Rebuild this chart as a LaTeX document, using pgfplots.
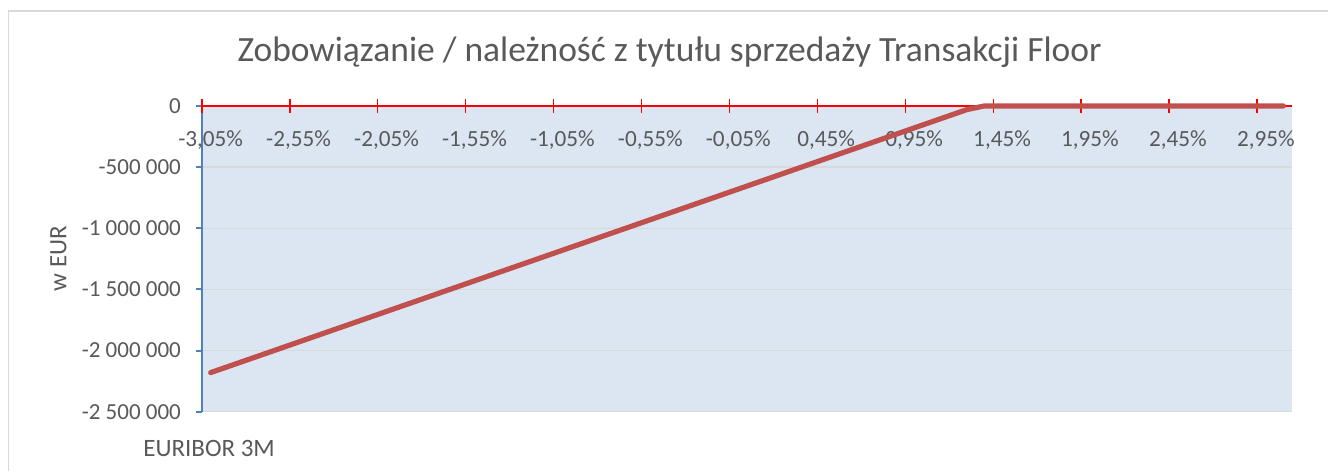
\documentclass[border=0pt]{standalone}
\usepackage{pgfplots}
\pgfplotsset{compat=1.18}
\usepackage{fontspec}
\setmainfont{Carlito}
\definecolor{txt}{HTML}{595959}
\definecolor{bgblue}{HTML}{DCE6F2}
\definecolor{lred}{HTML}{C0504D}
\definecolor{ablue}{HTML}{4F81BD}
\definecolor{grd}{HTML}{D9D9D9}
\begin{document}
\begin{tikzpicture}
\path (0,0) rectangle (664.5pt,235.5pt);
\draw[grd, line width=0.8pt] (4.25pt,0pt) -- (4.25pt,230pt) -- (664.5pt,230pt);
\begin{axis}[
  at={(101pt,29.5pt)}, anchor=south west,
  scale only axis, width=545.5pt, height=153pt,
  xmin=-3.1, xmax=3.1, ymin=-2500000, ymax=0,
  scaled y ticks=false,
  axis background/.style={fill=bgblue},
  axis x line=top, axis y line=left,
  axis line style={-},
  x axis line style={draw=red, line width=1pt},
  y axis line style={draw=ablue, line width=1pt},
  xtick={-3.05,-2.55,-2.05,-1.55,-1.05,-0.55,-0.05,0.45,0.95,1.45,1.95,2.45,2.95},
  xticklabels={{-3,05\%},{-2,55\%},{-2,05\%},{-1,55\%},{-1,05\%},{-0,55\%},{-0,05\%},{0,45\%},{0,95\%},{1,45\%},{1,95\%},{2,45\%},{2,95\%}},
  x tick style={draw=none},
  xticklabel style={anchor=north, yshift=-12pt, text=txt, font=\fontsize{11.6}{13}\selectfont},
  extra x ticks={-3.1,-2.6,-2.1,-1.6,-1.1,-0.6,-0.1,0.4,0.9,1.4,1.9,2.4,2.9},
  extra x tick labels={},
  extra x tick style={x tick style={draw=red, line width=0.7pt}, major tick length=7pt, tick align=center},
  ytick={-2500000,-2000000,-1500000,-1000000,-500000,0},
  yticklabels={{-2 500 000},{-2 000 000},{-1 500 000},{-1 000 000},{-500 000},{0}},
  y tick style={draw=ablue, line width=1pt},
  tick align=outside, major tick length=3pt,
  yticklabel style={text=txt, font=\fontsize{11.5}{13}\selectfont, xshift=-4pt},
  ymajorgrids, grid style={grd, line width=0.7pt},
  clip=false,
]
\addplot[lred, line width=2.6pt, line cap=round, line join=round] coordinates {
(-3.05,-2180000) (-2.95,-2130000) (-2.85,-2080000) (-2.75,-2030000) (-2.65,-1980000)
(-2.55,-1930000) (-2.45,-1880000) (-2.35,-1830000) (-2.25,-1780000) (-2.15,-1730000)
(-2.05,-1680000) (-1.95,-1630000) (-1.85,-1580000) (-1.75,-1530000) (-1.65,-1480000)
(-1.55,-1430000) (-1.45,-1380000) (-1.35,-1330000) (-1.25,-1280000) (-1.15,-1230000)
(-1.05,-1180000) (-0.95,-1130000) (-0.85,-1080000) (-0.75,-1030000) (-0.65,-980000)
(-0.55,-930000) (-0.45,-880000) (-0.35,-830000) (-0.25,-780000) (-0.15,-730000)
(-0.05,-680000) (0.05,-630000) (0.15,-580000) (0.25,-530000) (0.35,-480000)
(0.45,-430000) (0.55,-380000) (0.65,-330000) (0.75,-280000) (0.85,-230000)
(0.95,-180000) (1.05,-130000) (1.15,-80000) (1.25,-30000) (1.35,0)
(1.45,0) (1.55,0) (1.65,0) (1.75,0) (1.85,0) (1.95,0) (2.05,0) (2.15,0) (2.25,0)
(2.35,0) (2.45,0) (2.55,0) (2.65,0) (2.75,0) (2.85,0) (2.95,0) (3.05,0)
};
\end{axis}
\node[text=txt, font=\fontsize{17.75}{21}\selectfont] at (335pt,209.5pt) {Zobowiązanie / należność z tytułu sprzedaży Transakcji Floor};
\node[text=txt, font=\fontsize{12.5}{15}\selectfont, rotate=90] at (29.25pt,106pt) {w EUR};
\node[text=txt, font=\fontsize{12.5}{15}\selectfont, anchor=west, inner sep=0pt] at (71.5pt,11pt) {EURIBOR 3M};
\end{tikzpicture}
\end{document}
